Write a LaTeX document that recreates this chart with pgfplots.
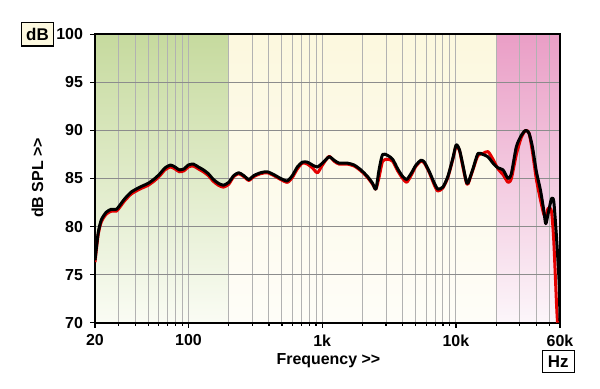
\documentclass[border=0pt]{standalone}
\usepackage{fontspec}
\setmainfont{Liberation Sans}
\usepackage{pgfplots}
\pgfplotsset{compat=1.18}
\usepackage{pgfplotstable}

\definecolor{greenTop}{RGB}{198,218,158}
\definecolor{greenBot}{RGB}{250,252,244}
\definecolor{creamTop}{RGB}{252,248,222}
\definecolor{creamBot}{RGB}{254,253,248}
\definecolor{pinkTop}{RGB}{234,158,198}
\definecolor{pinkBot}{RGB}{252,246,250}
\definecolor{gridv}{RGB}{178,178,178}
\definecolor{gridh}{RGB}{140,140,140}
\definecolor{boxfill}{RGB}{253,249,224}
\definecolor{curvered}{RGB}{228,0,0}

\pgfplotstableread{
f dB
20 76.5
21.1 79.3
22.3 80.7
24.3 81.5
26.5 81.8
28.9 81.8
30.6 82.2
33.4 82.9
37.4 83.6
43.3 84.1
50.0 84.5
56.1 85.0
61.2 85.5
66.7 86.1
73.4 86.4
79.2 86.2
85.4 85.9
92.6 86.0
99.7 86.4
108.7 86.5
118.5 86.2
129.2 85.9
140.8 85.5
153.5 84.9
167.4 84.5
182.5 84.3
200 84.6
218 85.3
237.7 85.6
259 85.3
282.5 84.9
308 85.3
346 85.6
388 85.7
435 85.4
489 85.0
548 84.75
598 85.3
652 86.2
711 86.7
775 86.7
845 86.4
921 86.2
1004 86.6
1125 87.25
1227 86.9
1337 86.6
1540 86.6
1733 86.4
1945 85.9
2184 85.2
2381 84.5
2521 83.9
2669 86.0
2830 87.5
3086 87.4
3364 87.0
3668 86.0
3999 85.2
4284 84.9
4614 85.5
5030 86.4
5484 86.9
5806 86.7
6330 85.7
6902 84.5
7317 83.9
7978 84.1
8698 85.2
9483 87.1
10040 88.5
10628 88.0
11272 86.4
11900 84.8
12290 84.5
13400 86.0
14610 87.6
15930 87.5
17370 87.25
18930 86.6
20640 86.1
22500 85.9
24540 85.0
25970 85.5
28310 88.3
30870 89.5
33240 90.0
35240 89.7
37320 88.3
39980 85.7
42840 83.8
45360 81.7
46960 80.3
48940 81.35
51820 82.9
53920 82.6
56500 78.9
59180 74.1
60000 70.2
}\blackdata

\pgfplotstableread{
f dB
20 76.3
21.1 79.1
22.3 80.5
24.3 81.3
26.5 81.6
28.9 81.6
30.6 82.0
33.4 82.7
37.4 83.4
43.3 83.9
50.0 84.3
56.1 84.8
61.2 85.3
66.7 85.9
73.4 86.2
79.2 86.0
85.4 85.7
92.6 85.8
99.7 86.2
108.7 86.3
118.5 86.0
129.2 85.7
140.8 85.3
153.5 84.7
167.4 84.3
182.5 84.1
200 84.4
218 85.2
237.7 85.5
259 85.2
282.5 84.8
308 85.2
346 85.5
388 85.6
435 85.3
489 84.9
548 84.6
598 85.1
652 86.0
711 86.6
775 86.5
845 86.1
921 85.6
1004 86.4
1125 87.3
1227 86.8
1337 86.5
1540 86.5
1733 86.3
1945 85.8
2184 85.1
2381 84.4
2521 83.9
2669 85.2
2830 86.8
3086 87.0
3364 86.8
3668 85.8
3999 85.0
4284 84.6
4614 85.3
5030 86.3
5484 86.8
5806 86.6
6330 85.6
6902 84.3
7317 83.7
7978 84.0
8698 85.1
9483 87.0
10040 88.4
10628 87.9
11272 86.2
11900 84.7
12290 84.4
13400 85.9
14610 87.4
15930 87.6
17370 87.8
18930 87.0
20640 86.0
22500 85.4
24540 84.6
25970 85.0
28310 87.5
30870 89.3
33240 90.0
35240 89.7
37320 87.8
39980 84.9
42840 82.8
45360 81.3
46960 81.0
48940 81.9
51820 81.6
53920 78.5
56500 72.0
57500 70.0
}\reddata

\begin{document}
\begin{tikzpicture}
\begin{axis}[
  name=ax,
  set layers=standard,
  scale only axis,
  width=232.5bp, height=144.2bp,
  at={(0,0)}, anchor=south west,
  xmode=log,
  xmin=20, xmax=60000, ymin=70, ymax=100,
  xtick={20,100,1000,10000,60000},
  xticklabels={20,100,1k,10k,60k},
  minor xtick={30,40,50,60,70,80,90,200,300,400,500,600,700,800,900,2000,3000,4000,5000,6000,7000,8000,9000,20000,30000,40000,50000},
  ytick={70,75,80,85,90,95,100},
  xmajorgrids, xminorgrids, ymajorgrids,
  x grid style={gridv, line width=0.5bp},
  y grid style={gridh, line width=0.5bp},
  axis line style={black, line width=1bp},
  tick align=outside,
  xtick pos=bottom, ytick pos=left,
  major tick length=2.5bp, minor tick length=1.5bp,
  tick style={black, line width=0.6bp},
  ticklabel style={font=\bfseries\fontsize{8}{9}\selectfont},
  /pgf/number format/assume math mode=true,
  xlabel={Frequency >{}>},
  ylabel={dB SPL >{}>},
  label style={font=\bfseries\fontsize{8}{9}\selectfont},
  xlabel style={at={(axis description cs:0.502,-0.13)}, anchor=center},
  ylabel style={at={(axis description cs:-0.124,0.502)}, anchor=center, rotate=0},
]
\begin{pgfonlayer}{axis background}
  \fill[top color=greenTop, bottom color=greenBot] (axis cs:20,70) rectangle (axis cs:200,100);
  \fill[top color=creamTop, bottom color=creamBot] (axis cs:200,70) rectangle (axis cs:20500,100);
  \fill[top color=pinkTop, bottom color=pinkBot] (axis cs:20500,70) rectangle (axis cs:60000,100);
\end{pgfonlayer}
\addplot[curvered, line width=1.5bp, smooth, tension=0.4, line join=round] table[x=f,y=dB] {\reddata};
\addplot[black, line width=1.5bp, smooth, tension=0.4, line join=round] table[x=f,y=dB] {\blackdata};
\end{axis}
\node[draw=black, line width=0.75bp, fill=boxfill, minimum width=15.8bp, minimum height=11.6bp, inner sep=0pt, font=\bfseries\fontsize{8.5}{9}\selectfont]
  at ([xshift=-28.75bp]ax.north west) {dB};
\node[draw=black, line width=0.75bp, fill=white, minimum width=16bp, minimum height=11bp, inner sep=0pt, font=\bfseries\fontsize{8.5}{9}\selectfont]
  at ([xshift=-0.85bp, yshift=-19.5bp]ax.south east) {Hz};
\path (-47.5bp,-33.15bp) rectangle (252.5bp,161.35bp);
\end{tikzpicture}
\end{document}
